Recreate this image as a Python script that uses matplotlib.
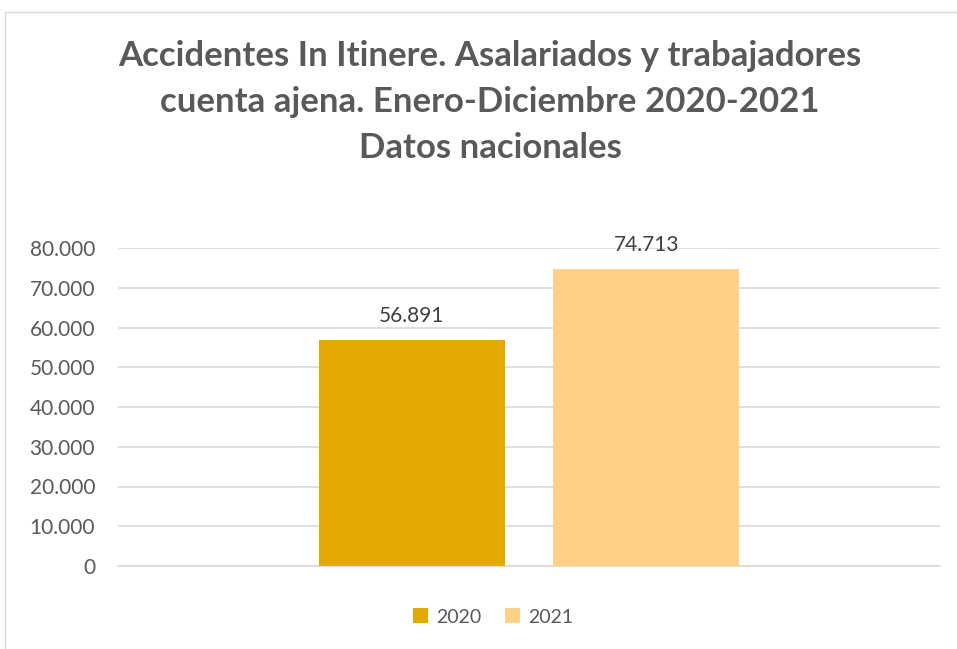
import matplotlib.pyplot as plt
from matplotlib.patches import Rectangle

# data
years = ['2020', '2021']
values = [56891, 74713]
colors = ['#E2AA00', '#FFD085']
title = ('Accidentes In Itinere. Asalariados y trabajadores\n'
         'cuenta ajena. Enero-Diciembre 2020-2021\n'
         'Datos nacionales')
yticks = list(range(0, 80001, 10000))

plt.rcParams['font.family'] = ['Lato', 'DejaVu Sans']
txt = '#595959'


def fmt(v):
    return f'{v:,}'.replace(',', '.')


fig = plt.figure(figsize=(9.57, 6.49), dpi=100)
# chart frame
fig.patches.append(Rectangle((5 / 957, -0.1), 1.1, (649 - 12) / 649 + 0.1,
                             transform=fig.transFigure, fill=False,
                             edgecolor='#d9d9d9', linewidth=1))

ax = fig.add_axes([118 / 957, 83 / 649, 822 / 957, 318 / 649])

offsets = [-0.1427, 0.1427]
for yr, v, c, off in zip(years, values, colors, offsets):
    ax.bar(0.5 + off, v, width=0.2263, color=c, label=yr, zorder=3)
    ax.annotate(fmt(v), (0.5 + off, v), xytext=(0, 10), textcoords='offset points',
                ha='center', va='bottom', fontsize=15, color='#404040')

ax.set_xlim(0, 1)
ax.set_ylim(0, 80000)
ax.set_yticks(yticks)
ax.set_yticklabels([fmt(t) for t in yticks], fontsize=15, color=txt)
ax.set_xticks([])
ax.grid(axis='y', color='#d9d9d9', linewidth=1.2, zorder=0)
for s in ['top', 'right', 'left']:
    ax.spines[s].set_visible(False)
ax.spines['bottom'].set_color('#d9d9d9')
ax.spines['bottom'].set_linewidth(1.2)
ax.tick_params(axis='y', length=0, pad=16.5)

fig.text(490 / 957, 1 - 102 / 649, title, ha='center', va='center',
         fontsize=25, fontweight='bold', color=txt, linespacing=1.52)

ax.legend(loc='center', bbox_to_anchor=(493 / 957, 1 - 617 / 649),
          bbox_transform=fig.transFigure, ncol=2, frameon=False,
          fontsize=14, labelcolor=txt, handlelength=0.8, handleheight=0.8,
          handletextpad=0.4, columnspacing=1.2)

fig.savefig('out.png', dpi=100)
